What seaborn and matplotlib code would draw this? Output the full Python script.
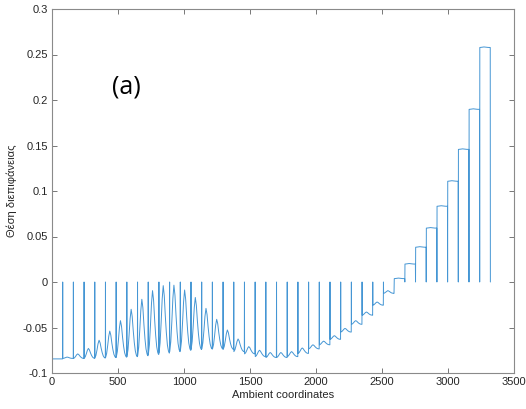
import numpy as np
import pandas as pd
import matplotlib
matplotlib.use("Agg")
import matplotlib.pyplot as plt
from matplotlib.ticker import FuncFormatter
import seaborn as sns

# ---- data ----
SEG_LEN = 81  # samples per segment (41 segments)
seg_trough = [-0.0845, -0.0840, -0.0840, -0.0838, -0.0835, -0.0830, -0.0825, -0.0820,
              -0.0810, -0.0795, -0.0780, -0.0765, -0.0750, -0.0740, -0.0735, -0.0735,
              -0.0740, -0.0765, -0.0790, -0.0820, -0.0830, -0.0830, -0.0820, -0.0785,
              -0.0735, -0.0690, -0.0630, -0.0550, -0.0465, -0.0365, -0.0255, -0.0125,
              0.0037, 0.0197, 0.0382, 0.0592, 0.0832, 0.1107, 0.1457, 0.1897, 0.2577]
seg_peak = [-0.0845, -0.0825, -0.0790, -0.0730, -0.0640, -0.0540, -0.0425, -0.0300,
            -0.0190, -0.0095, -0.0040, -0.0035, -0.0088, -0.0170, -0.0290, -0.0410,
            -0.0527, -0.0626, -0.0710, -0.0750, -0.0775, -0.0775, -0.0765, -0.0725,
            -0.0690, -0.0650, -0.0590, -0.0510, -0.0425, -0.0330, -0.0220, -0.0095,
            0.0043, 0.0203, 0.0388, 0.0598, 0.0838, 0.1113, 0.1463, 0.1903, 0.2583]
# shape of one segment: (position in segment, share of trough->peak)
profile_pos = [0.0, 0.1, 0.2, 0.3, 0.4, 0.5, 0.6, 0.7, 0.8, 0.9, 0.97]
profile_share = [0.0, 0.15, 0.45, 0.8, 1.0, 0.85, 0.55, 0.3, 0.12, 0.03, 0.0]
spike_value = 0.0

xticks = [0, 500, 1000, 1500, 2000, 2500, 3000, 3500]
yticks = [-0.1, -0.05, 0, 0.05, 0.1, 0.15, 0.2, 0.25, 0.3]

# ---- build the polyline ----
xs, ys = [], []
for k, (tr, pk) in enumerate(zip(seg_trough, seg_peak)):
    start = SEG_LEN * k + 1
    for p, s in zip(profile_pos, profile_share):
        xs.append(start + p * (SEG_LEN - 2))
        ys.append(tr + s * (pk - tr))
    xs.append(start + SEG_LEN - 2)
    ys.append(tr)
    xs.append(start + SEG_LEN - 1)
    ys.append(spike_value)
df = pd.DataFrame({"x": xs, "y": ys})

sns.set_theme(style="white")
plt.rcParams['font.family'] = ['Liberation Sans', 'DejaVu Sans']

fig = plt.figure(figsize=(5.26, 4.09), dpi=100)
ax = fig.add_axes([52/526, 36/409, 462/526, 364/409])

sns.lineplot(data=df, x="x", y="y", ax=ax, sort=False, estimator=None,
             color="#4596d4", linewidth=0.7)

ax.set_xlim(0, 3500)
ax.set_ylim(-0.1, 0.3)
ax.set_xticks(xticks)
ax.set_yticks(yticks)
ax.yaxis.set_major_formatter(FuncFormatter(lambda v, p: "%g" % round(v, 3)))
ax.tick_params(direction="in", length=3.5, width=0.7, color="#777777",
               labelsize=8, labelcolor="#262626", top=True, right=True,
               bottom=True, left=True, pad=3)
for s in ax.spines.values():
    s.set_visible(True)
    s.set_color("#8a8a8a")
    s.set_linewidth(0.8)

ax.set_xlabel("Ambient coordinates", fontsize=8, color="#262626", labelpad=2)
ax.set_ylabel("Θέση διεπιφάνειας", fontsize=8, color="#262626", labelpad=4)

ax.text(0.162, 0.785, "(a)", transform=ax.transAxes, fontsize=18,
        family=["Open Sans", "DejaVu Sans"], color="black", ha="center", va="center")

fig.savefig("out.png", dpi=100)
